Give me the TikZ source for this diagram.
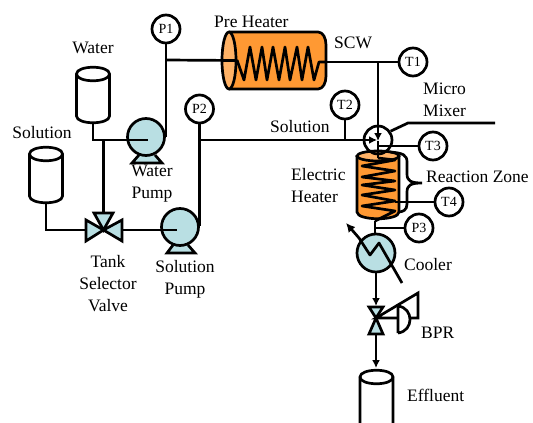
\documentclass[tikz,border=0pt]{standalone}
\usepackage{fontspec}
\setmainfont{Liberation Serif}
\usetikzlibrary{arrows.meta,shapes.geometric}
\definecolor{pumpblue}{RGB}{185,223,227}
\definecolor{heatorange}{RGB}{255,153,51}
\definecolor{heatlight}{RGB}{255,178,102}
\tikzset{
	pipe/.style={line width=2.7pt},
	feed/.style={pipe,-{Latex[length=8pt,width=8pt]}},
	gauge/.style={circle,draw,line width=2.7pt,fill=white,minimum size=28pt,inner sep=0pt,font=\fontsize{14}{16}\selectfont},
	pump/.style={circle,draw,line width=2.7pt,fill=pumpblue,minimum size=37pt,inner sep=0pt},
	tag/.style={inner sep=0pt,align=center,font=\fontsize{17.5}{22}\selectfont},
	lefttag/.style={tag,anchor=west,align=left}
}
\begin{document}
\begin{tikzpicture}[x=1pt,y=-1pt]
	\useasboundingbox (0,0) rectangle (533,423);
	%tanks
	\foreach \x/\y in {93/74, 46/154}{
		\draw[pipe,fill=white] (\x-16.5,\y) -- (\x-16.5,\y+42) .. controls (\x-16.5,\y+51) and (\x+16.5,\y+51) .. (\x+16.5,\y+42) -- (\x+16.5,\y) .. controls (\x+16.5,\y-9) and (\x-16.5,\y-9) .. cycle;
		\draw[pipe] (\x-16.5,\y) .. controls (\x-16.5,\y+9) and (\x+16.5,\y+9) .. (\x+16.5,\y);
	}
	\draw[pipe] (360,423) -- (360,377) .. controls (360,368) and (393,368) .. (393,377) -- (393,423);
	\draw[pipe] (360,377) .. controls (360,386) and (393,386) .. (393,377);
	\coordinate (WaterOut) at (93,122);
	\coordinate (SolutionOut) at (46,202);
	\coordinate (EffluentIn) at (376,368);

	%pumps
	\draw[pipe,fill=pumpblue] (139,155) -- (132,163) -- (162,163) -- (155,155);
	\draw[pipe,fill=pumpblue] (173,245) -- (167,253) -- (195,253) -- (188,245);
	\node (WaterPump) at (146,137) [pump]{};
	\node (SolutionPump) at (180,227) [pump]{};
	\node (Cooler) at (376,253) [pump,minimum size=38pt]{};

	%gauges
	\foreach \name/\x/\y in {P1/166/29, P2/199.5/109, P3/419/228, T1/413/62, T2/345/105, T3/433/146, T4/449/202}{
		\node (\name) at (\x,\y) [gauge]{\name};
	}

	%pre heater
	\draw[pipe,fill=heatorange] (229,32) -- (318,32) .. controls (323,32) and (326,38) .. (326,45) -- (326,76) .. controls (326,83) and (323,89) .. (318,89) -- (229,89);
	\node (PreIn) at (229,60.5) [ellipse,draw,pipe,fill=heatlight,minimum width=14pt,minimum height=57pt,inner sep=0pt]{};
	\coordinate (CoilIn) at (237,60);
	\coordinate (CoilOut) at (325,62);
	\draw[pipe,line join=round] (CoilIn) -- (244,80) -- (250,47) -- (256,80) -- (262,47) -- (267,80) -- (273,47) -- (279,80) -- (285,47) -- (290,80) -- (297,47) -- (302,80) -- (308,47) -- (314,80) -- (319,62) -- (CoilOut);

	%electric heater
	\draw[pipe,fill=heatorange] (357,156) -- (357,212) .. controls (357,221) and (399,221) .. (399,212) -- (399,156);
	\draw[pipe,fill=heatlight] (378,156) ellipse [x radius=21pt, y radius=5pt];
	\coordinate (HeaterIn) at (378,158);
	\coordinate (HeaterOut) at (375,221);
	\draw[pipe,line join=round] (HeaterIn) -- (395,160) -- (362,166) -- (395,171) -- (362,177) -- (395,181) -- (362,185) -- (395,190) -- (362,195) -- (395,201) -- (362,206) -- (395,211) -- (HeaterOut);

	%lines
	\coordinate (WaterIn) at (148,140);
	\coordinate (SolutionIn) at (177,230);
	\coordinate (ValveTop) at (103.5,213);
	\coordinate (ValveLeft) at (86,230);
	\coordinate (ValveRight) at (122,230);
	\coordinate (ValveMid) at (103.5,230);
	\coordinate (MixIn) at (377,140);
	\coordinate (MixTop) at (378,141);
	\coordinate (P1Tee) at (166,60);
	\coordinate (P2Tee) at (199.5,140);
	\coordinate (T1Tee) at (378,62);
	\draw[pipe] (WaterOut) |- (WaterIn);
	\draw[pipe] (103.5,140) -- (ValveTop);
	\draw[pipe] (SolutionOut) |- (ValveLeft);
	\draw[pipe] (ValveRight) -- (SolutionIn);
	\draw[pipe] (P1) -- (166,137);
	\draw[pipe] (P1Tee) -- (PreIn.east);
	\draw[pipe] (199.5,226) -- (P2);
	\draw[pipe] (CoilOut) -- (T1);
	\draw[feed] (P2Tee) -- (MixIn);
	\draw[pipe] (T2) -- (345,140);
	\draw[feed] (T1Tee) -- (MixTop);
	\draw[pipe] (MixTop) -- (HeaterIn);
	\draw[pipe] (379,146) -- (T3);
	\draw[pipe] (395,202) -- (T4);
	\draw[pipe] (HeaterOut) -- (Cooler.north-|HeaterOut);
	\draw[pipe] (375,228) -- (P3);
	\node (Mixer) at (378,140) [circle,draw,pipe,minimum size=28pt,inner sep=0pt]{};
	\draw[pipe] (Mixer.35) -- (408,123) -- (495,123);

	%valves
	\draw[pipe,fill=pumpblue,line join=miter] (94,213) -- (113,213) -- (ValveMid) -- cycle;
	\draw[pipe,fill=pumpblue] (ValveLeft) -- (86,220) -- (ValveMid) -- (86,241) -- cycle;
	\draw[pipe,fill=pumpblue] (ValveRight) -- (122,220) -- (ValveMid) -- (122,241) -- cycle;
	\coordinate (BprMid) at (376,318);
	\draw[pipe,fill=pumpblue] (369,307) -- (383,307) -- (BprMid) -- cycle;
	\draw[pipe,fill=pumpblue] (369,334) -- (383,334) -- (BprMid) -- cycle;
	\draw[feed] (Cooler) ++(0,20) -- (376,306);
	\draw[feed] (376,334) -- (EffluentIn);
	\draw[pipe] (BprMid) -- (418,293) -- (418,318) -- cycle;
	\draw[pipe,fill=white] (398,333) -- (398,306) .. controls (414,308) and (414,331) .. (398,333);

	%cooler arrow
	\draw[pipe,-{Latex[length=9pt,width=9pt]},line join=round] (402,283) -- (379,243) -- (370,255) -- (359,238) -- (346,223);

	%reaction zone brace
	\draw[pipe] (390,152) .. controls (403,153) and (407,155) .. (407,162) -- (407,174) .. controls (407,181) and (411,183) .. (422,183) .. controls (411,183) and (407,185) .. (407,192) -- (407,204) .. controls (407,210) and (403,212) .. (398,212);

	%labels
	\node (TagWater) at (93,48) [tag]{Water};
	\node (TagSolution) at (42,133) [tag]{Solution};
	\node (TagWaterPump) at (152,184) [tag]{Water\\Pump};
	\node (TagSolutionPump) at (185,279) [tag]{Solution\\Pump};
	\node (TagValve) at (108,284) [tag]{Tank\\Selector\\Valve};
	\node (TagPre) at (214,22) [lefttag]{Pre Heater};
	\node (TagSCW) at (334,43) [lefttag]{SCW};
	\node (TagMixer) at (423,100) [lefttag]{Micro\\Mixer};
	\node (TagFeed) at (270,127) [lefttag]{Solution};
	\node (TagHeater) at (291,186) [lefttag]{Electric\\Heater};
	\node (TagZone) at (426,177) [lefttag]{Reaction Zone};
	\node (TagCooler) at (404,265) [lefttag]{Cooler};
	\node (TagBPR) at (421,333) [lefttag]{BPR};
	\node (TagEffluent) at (407,395) [lefttag]{Effluent};
\end{tikzpicture}
\end{document}
